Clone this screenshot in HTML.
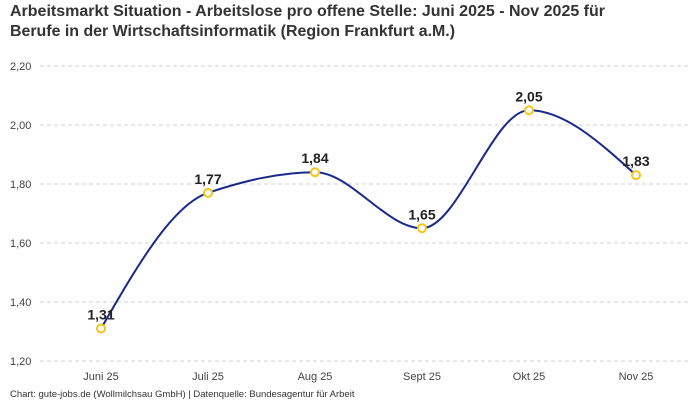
<!DOCTYPE html>
<html><head><meta charset="utf-8"><style>
body{margin:0;background:#fff;}
svg{display:block;font-family:"Liberation Sans",sans-serif;}
</style></head><body>
<svg id="s" width="700" height="400" viewBox="0 0 700 400">
<text x="10" y="16" font-size="16" font-weight="bold" fill="#333" textLength="595" lengthAdjust="spacingAndGlyphs">Arbeitsmarkt Situation - Arbeitslose pro offene Stelle: Juni 2025 - Nov 2025 für</text>
<text x="10" y="36" font-size="16" font-weight="bold" fill="#333" textLength="445" lengthAdjust="spacingAndGlyphs">Berufe in der Wirtschaftsinformatik (Region Frankfurt a.M.)</text>
<g stroke="#d0d0d0" stroke-dasharray="4,3" stroke-width="1">
<line x1="40" x2="690" y1="66" y2="66"/><line x1="40" x2="690" y1="125" y2="125"/>
<line x1="40" x2="690" y1="184" y2="184"/><line x1="40" x2="690" y1="243" y2="243"/>
<line x1="40" x2="690" y1="302" y2="302"/><line x1="40" x2="690" y1="361" y2="361"/>
</g>
<g font-size="11" fill="#444">
<text x="10" y="70">2,20</text><text x="10" y="129">2,00</text><text x="10" y="188">1,80</text>
<text x="10" y="247">1,60</text><text x="10" y="306">1,40</text><text x="10" y="365">1,20</text>
</g>
<g font-size="11" fill="#444" text-anchor="middle">
<text x="101" y="380">Juni 25</text><text x="208" y="380">Juli 25</text><text x="315" y="380">Aug 25</text>
<text x="422" y="380">Sept 25</text><text x="529" y="380">Okt 25</text><text x="636" y="380">Nov 25</text>
</g>
<path id="p" fill="none" stroke="#1a2a8c" stroke-width="2"/>
<g id="pts"></g>
<text x="10" y="397" font-size="9.5" fill="#333">Chart: gute-jobs.de (Wollmilchsau GmbH) | Datenquelle: Bundesagentur für Arbeit</text>
</svg>
<script>
var v=[1.31,1.77,1.84,1.65,2.05,1.83],labels=["1,31","1,77","1,84","1,65","2,05","1,83"];
var xs=v.map((d,i)=>101+107*i),ys=v.map(d=>361-(d-1.2)*295);
var n=xs.length,m=[],s=[];
for(var i=0;i<n-1;i++)s.push((ys[i+1]-ys[i])/(xs[i+1]-xs[i]));
for(var i=0;i<n;i++){
 if(i==0)m.push(s[0]);else if(i==n-1)m.push(s[n-2]);
 else{ if(s[i-1]*s[i]<=0)m.push(0);else{var a=s[i-1],b=s[i];m.push(2/(1/a+1/b));}}
}
m[0]=(3*s[0]-m[1])/2; m[n-1]=(3*s[n-2]-m[n-2])/2;
var d="M"+xs[0]+","+ys[0];
for(var i=0;i<n-1;i++){var h=(xs[i+1]-xs[i])/3;
 d+="C"+(xs[i]+h)+","+(ys[i]+h*m[i])+","+(xs[i+1]-h)+","+(ys[i+1]-h*m[i+1])+","+xs[i+1]+","+ys[i+1];}
document.getElementById("p").setAttribute("d",d);
var g="";
for(var i=0;i<n;i++){
 g+='<circle cx="'+xs[i]+'" cy="'+ys[i]+'" r="4" fill="#fff" stroke="#f5c518" stroke-width="2"/>';
 g+='<text x="'+xs[i]+'" y="'+(ys[i]-9)+'" text-anchor="middle" font-size="14" font-weight="bold" fill="#222">'+labels[i]+'</text>';
}
document.getElementById("pts").innerHTML=g;
</script>
</body></html>
